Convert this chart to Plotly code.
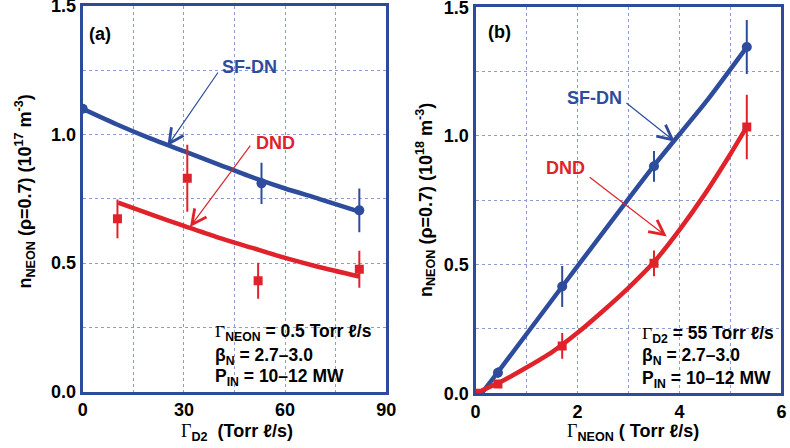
import plotly.graph_objects as go

# ---------------- data ----------------
# panel (a): n_NEON vs Gamma_D2
a_sf_x = [0, 53, 82]
a_sf_y = [1.10, 0.81, 0.705]
a_sf_err = [0.0, 0.08, 0.085]
a_dnd_x = [10.3, 31.0, 52.0, 82.0]
a_dnd_y = [0.672, 0.83, 0.431, 0.476]
a_dnd_err = [0.075, 0.13, 0.07, 0.072]
a_sf_fit_x = [0, 10, 20, 30, 40, 50, 60, 70, 82]
a_sf_fit_y = [1.10, 1.04, 0.985, 0.935, 0.885, 0.835, 0.79, 0.75, 0.70]
a_dnd_fit_x = [10.5, 20, 30, 40, 50, 60, 70, 82]
a_dnd_fit_y = [0.735, 0.69, 0.645, 0.60, 0.56, 0.52, 0.485, 0.448]

# panel (b): n_NEON vs Gamma_NEON
b_sf_x = [0.44, 1.70, 3.50, 5.32]
b_sf_y = [0.08, 0.415, 0.882, 1.346]
b_sf_err = [0.02, 0.08, 0.06, 0.105]
b_dnd_x = [0.0, 0.44, 1.70, 3.50, 5.32]
b_dnd_y = [0.0, 0.036, 0.184, 0.505, 1.035]
b_dnd_err = [0.0, 0.0, 0.05, 0.05, 0.125]
b_sf_fit_x = [0.12, 0.45, 1.7, 3.5, 4.55, 5.32]
b_sf_fit_y = [0.0, 0.085, 0.415, 0.885, 1.14, 1.345]
b_dnd_fit_x = [0, 0.5, 1.0, 1.5, 2.0, 2.5, 3.0, 3.5, 4.0, 4.5, 5.0, 5.32]
b_dnd_fit_y = [0, 0.045, 0.10, 0.16, 0.235, 0.32, 0.41, 0.51, 0.635, 0.775, 0.93, 1.035]

# tick spacing (labelled / grid-only)
a_xdtick, a_xminor = 30, 15
b_xdtick, b_xminor = 2, 1
ydtick, yminor = 0.5, 0.25

# ---------------- style ----------------
BLUE = "#2e4c9c"
RED = "#e0232b"
FRAME = "#2e4a9a"
GRID = "#8c9bd0"
FONT = "Liberation Sans, Arial, sans-serif"
GAM = "<span style=\"font-family:'Liberation Serif',serif;font-weight:normal\">Γ</span>"

fig = go.Figure()

def add_panel(xa, ya, fx, fy, gx, gy, px, py, pe, qx, qy, qe):
    fig.add_trace(go.Scatter(x=fx, y=fy, mode="lines", line=dict(color=BLUE, width=4.5, shape="spline", smoothing=0.6),
                             xaxis=xa, yaxis=ya, hoverinfo="skip"))
    fig.add_trace(go.Scatter(x=gx, y=gy, mode="lines", line=dict(color=RED, width=4.5, shape="spline", smoothing=0.6),
                             xaxis=xa, yaxis=ya, hoverinfo="skip"))
    fig.add_trace(go.Scatter(x=px, y=py, mode="markers", marker=dict(color=BLUE, size=10, symbol="circle"),
                             error_y=dict(type="data", array=pe, visible=True, color=BLUE, thickness=2, width=0),
                             xaxis=xa, yaxis=ya))
    fig.add_trace(go.Scatter(x=qx, y=qy, mode="markers", marker=dict(color=RED, size=9, symbol="square"),
                             error_y=dict(type="data", array=qe, visible=True, color=RED, thickness=2, width=0),
                             xaxis=xa, yaxis=ya))

add_panel("x", "y", a_sf_fit_x, a_sf_fit_y, a_dnd_fit_x, a_dnd_fit_y,
          a_sf_x, a_sf_y, a_sf_err, a_dnd_x, a_dnd_y, a_dnd_err)
add_panel("x2", "y2", b_sf_fit_x, b_sf_fit_y, b_dnd_fit_x, b_dnd_fit_y,
          b_sf_x, b_sf_y, b_sf_err, b_dnd_x, b_dnd_y, b_dnd_err)

def axis(domain, rng, dtick, minor, anchor, fmt=None):
    d = dict(domain=domain, range=rng, anchor=anchor, tickmode="linear", tick0=0, dtick=dtick,
             showline=True, mirror=True, linecolor=FRAME, linewidth=3, showgrid=True, gridcolor=GRID,
             griddash="dot", gridwidth=1, zeroline=False, ticks="", automargin=False,
             ticklabeloverflow="allow",
             minor=dict(dtick=minor, tick0=0, showgrid=True, gridcolor=GRID, griddash="dot", gridwidth=1, ticks=""),
             tickfont=dict(family=FONT, size=18, color="black", weight="bold"), fixedrange=True)
    if fmt:
        d["tickformat"] = fmt
    return d

fig.update_layout(
    width=790, height=448, margin=dict(l=0, r=0, t=0, b=0, autoexpand=False),
    paper_bgcolor="white", plot_bgcolor="white", showlegend=False,
    xaxis=axis([0.1047, 0.4890], [0, 90], a_xdtick, a_xminor, "y"),
    yaxis=axis([0.1257, 0.9868], [0, 1.5], ydtick, yminor, "x", ".1f"),
    xaxis2=axis([0.6019, 0.9892], [0, 6], b_xdtick, b_xminor, "y2"),
    yaxis2=axis([0.1221, 0.9837], [0, 1.5], ydtick, yminor, "x2", ".1f"),
)

def txt(text, x, y, xref, yref, color="black", size=18, xanchor="center", yanchor="middle", angle=0):
    fig.add_annotation(text=text, x=x, y=y, xref=xref, yref=yref, showarrow=False, xanchor=xanchor,
                       yanchor=yanchor, textangle=angle,
                       font=dict(family=FONT, size=size, color=color, weight="bold"))

def arrow(x, y, ax, ay, xref, yref, color):
    fig.add_annotation(text="", x=x, y=y, ax=ax, ay=ay, xref=xref, yref=yref, axref=xref, ayref=yref,
                       showarrow=True, arrowhead=5, arrowsize=2.4, arrowwidth=1.2, arrowcolor=color,
                       standoff=0, startstandoff=0)

# axis titles
txt("n<sub>NEON</sub> (ρ=0.7) (10<sup>17</sup> m<sup>-3</sup>)", 25 / 790, 1 - 191.5 / 448, "paper", "paper", angle=-90)
txt("n<sub>NEON</sub> (ρ=0.7) (10<sup>18</sup> m<sup>-3</sup>)", 425 / 790, 1 - 200 / 448, "paper", "paper", angle=-90)
txt(GAM + "<sub>D2</sub>&nbsp;&nbsp;(Torr ℓ/s)", 236.5 / 790, 1 - 432 / 448, "paper", "paper")
txt(GAM + "<sub>NEON</sub> (&nbsp;Torr ℓ/s)", 632.5 / 790, 1 - 432 / 448, "paper", "paper")

# panel labels
txt("(a)", 5.0, 1.39, "x", "y")
txt("(b)", 0.48, 1.405, "x2", "y2")

# curve labels and arrows
txt("SF-DN", 49.5, 1.262, "x", "y", color=BLUE)
txt("DND", 57.1, 0.966, "x", "y", color=RED)
arrow(25.1, 0.955, 40.4, 1.247, "x", "y", BLUE)
arrow(31.8, 0.640, 50.0, 0.963, "x", "y", RED)
txt("SF-DN", 2.343, 1.146, "x2", "y2", color=BLUE)
txt("DND", 1.77, 0.874, "x2", "y2", color=RED)
arrow(3.91, 0.978, 2.93, 1.133, "x2", "y2", BLUE)
arrow(3.75, 0.609, 2.21, 0.844, "x2", "y2", RED)

# condition text
a_lines = [GAM + "<sub>NEON</sub> = 0.5 Torr ℓ/s", "β<sub>N</sub> = 2.7–3.0", "P<sub>IN</sub> = 10–12 MW"]
b_lines = [GAM + "<sub>D2</sub> = 55 Torr ℓ/s", "β<sub>N</sub> = 2.7–3.0", "P<sub>IN</sub> = 10–12 MW"]
a_ys = [329, 353, 374.5]
b_ys = [331.5, 353, 376]
for t, ypx in zip(a_lines, a_ys):
    txt(t, 213 / 790, 1 - (ypx + 3) / 448, "paper", "paper", xanchor="left", size=17.5)
for t, ypx in zip(b_lines, b_ys):
    txt(t, 640 / 790, 1 - (ypx + 3) / 448, "paper", "paper", xanchor="left", size=17.5)

fig.write_html("out.html", config={"displayModeBar": False},
               post_script="document.body.style.margin='0';document.body.style.overflow='hidden';")
